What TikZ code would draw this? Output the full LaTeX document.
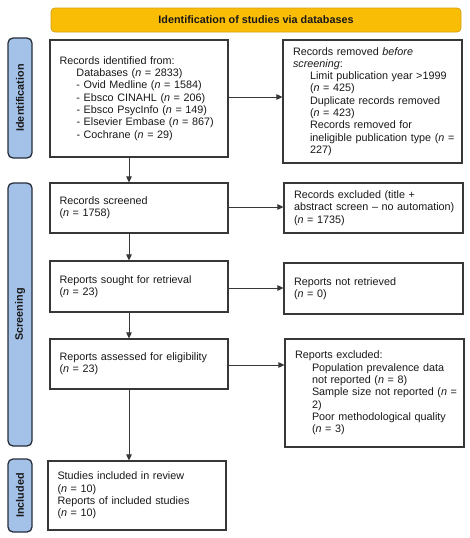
\documentclass[tikz,border=0pt]{standalone}
\usepackage{fontspec}
\setmainfont{Liberation Sans}
\usetikzlibrary{arrows.meta,calc}
\definecolor{bannerfill}{RGB}{250,189,5}
\definecolor{bannerline}{RGB}{214,160,20}
\definecolor{barfill}{RGB}{164,194,232}
\definecolor{barline}{RGB}{38,46,60}
\definecolor{boxline}{RGB}{55,55,55}
\definecolor{textcol}{RGB}{25,25,25}
\newcommand{\nitl}{\textit{n}}
\hyphenpenalty=10000
\exhyphenpenalty=10000
\hfuzz=50pt
\hbadness=10000
\begin{document}
\begin{tikzpicture}[x=1pt,y=-1pt,
  box/.style={draw=boxline, line width=1.1pt, fill=white, align=left,
    inner xsep=9.5pt, inner ysep=0pt, text=textcol,
    font=\fontsize{10.8}{12.3}\selectfont},
  bar/.style={draw=barline, fill=barfill, rounded corners=5pt, line width=1.3pt,
    rotate=90, inner sep=0pt, text=textcol,
    font=\fontsize{10.8}{12}\selectfont\bfseries},
  banner/.style={draw=bannerline, fill=bannerfill, rounded corners=4pt, line width=0.8pt,
    inner sep=0pt, text=textcol, font=\fontsize{10.8}{12}\selectfont\bfseries},
  arr/.style={-{Triangle[length=6pt,width=5.5pt]}, line width=0.85pt, draw=boxline}
]
\useasboundingbox[fill=white] (0,0) rectangle (470,538);

\node[banner, minimum width=410pt, minimum height=24pt] (ban) at (256,20) {Identification of studies via databases};

\node[bar, minimum width=120pt, minimum height=24pt] (idbar) at (20,98) {Identification};
\node[bar, minimum width=263pt, minimum height=24pt] (scrbar) at (20,314.5) {Screening};
\node[bar, minimum width=73pt, minimum height=24pt] (incbar) at (20,495.5) {Included};

\node[box, minimum width=178pt, minimum height=117pt, text width=159pt] (b1) at (139,98.5)
 {Records identified from:\\
  \hspace*{17pt}Databases (\nitl{} = 2833)\\
  \hspace*{17pt}- Ovid Medline (\nitl{} = 1584)\\
  \hspace*{17pt}- Ebsco CINAHL (\nitl{} = 206)\\
  \hspace*{17pt}- Ebsco PsycInfo (\nitl{} = 149)\\
  \hspace*{17pt}- Elsevier Embase (\nitl{} = 867)\\
  \hspace*{17pt}- Cochrane (\nitl{} = 29)};

\node[box, minimum width=179pt, minimum height=123pt, text width=159pt, inner xsep=10pt] (b2) at (372.5,101.5)
 {Records removed \textit{before}\\
  \textit{screening}:\\
  \hspace*{17pt}\mbox{Limit publication year >1999}\\
  \hspace*{17pt}(\nitl{} = 425)\\
  \hspace*{17pt}Duplicate records removed\\
  \hspace*{17pt}(\nitl{} = 423)\\
  \hspace*{17pt}Records removed for\\
  \hspace*{17pt}\mbox{ineligible publication type (\nitl{} =}\\
  \hspace*{17pt}227)};

\node[box, minimum width=178pt, minimum height=50pt, text width=159pt] (b3) at (139,208)
 {Records screened\\(\nitl{} = 1758)};
\node[box, minimum width=179pt, minimum height=50pt, text width=159pt, inner xsep=10pt] (b4) at (373.5,208)
 {Records excluded (title +\\\mbox{abstract screen \textendash{} no automation)}\\(\nitl{} = 1735)};

\node[box, minimum width=178pt, minimum height=51pt, text width=159pt] (b5) at (139,286.5)
 {Reports sought for retrieval\\(\nitl{} = 23)};
\node[box, minimum width=179pt, minimum height=51pt, text width=159pt, inner xsep=10pt] (b6) at (373.5,288.5)
 {Reports not retrieved\\(\nitl{} = 0)};

\node[box, minimum width=178pt, minimum height=50pt, text width=159pt] (b7) at (139,364)
 {Reports assessed for eligibility\\(\nitl{} = 23)};
\node[box, minimum width=179pt, minimum height=108pt, text width=159pt, inner xsep=10pt] (b8) at (374.5,393)
 {Reports excluded:\\
  \hspace*{17pt}\mbox{Population prevalence data}\\
  \hspace*{17pt}not reported (\nitl{} = 8)\\
  \hspace*{17pt}\mbox{Sample size not reported (\nitl{} =}\\
  \hspace*{17pt}2)\\
  \hspace*{17pt}\mbox{Poor methodological quality}\\
  \hspace*{17pt}(\nitl{} = 3)};

\node[box, minimum width=178pt, minimum height=69pt, text width=159pt] (b9) at (137,495.5)
 {Studies included in review\\(\nitl{} = 10)\\Reports of included studies\\(\nitl{} = 10)};

\coordinate (vx) at (129,0);
\coordinate (h1) at (0,97);
\coordinate (h2) at (0,207);
\coordinate (h3) at (0,288);
\coordinate (h4) at (0,365);

\draw[arr] (b1.south -| vx) -- (b3.north -| vx);
\draw[arr] (b3.south -| vx) -- (b5.north -| vx);
\draw[arr] (b5.south -| vx) -- (b7.north -| vx);
\draw[arr] (b7.south -| vx) -- (b9.north -| vx);

\draw[arr] (b1.east |- h1) -- (b2.west |- h1);
\draw[arr] (b3.east |- h2) -- (b4.west |- h2);
\draw[arr] (b5.east |- h3) -- (b6.west |- h3);
\draw[arr] (b7.east |- h4) -- (b8.west |- h4);
\end{tikzpicture}
\end{document}
